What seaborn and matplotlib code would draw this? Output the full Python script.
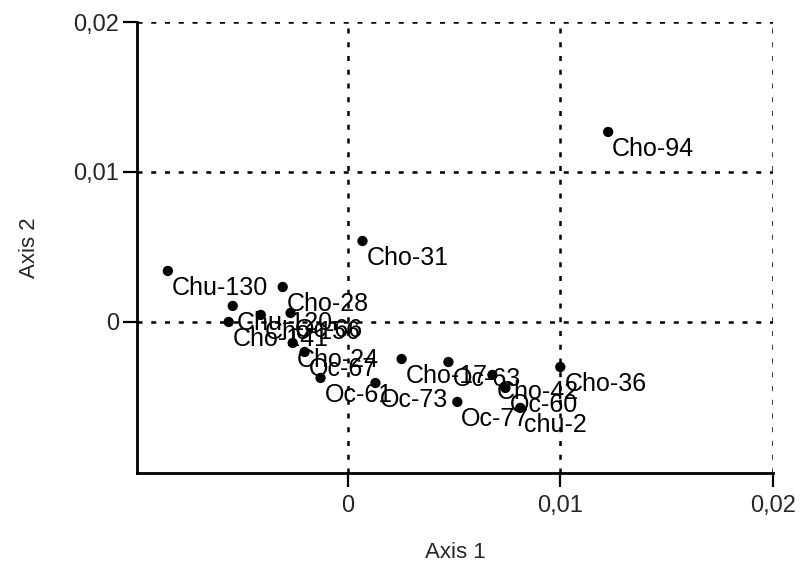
import pandas as pd
import matplotlib
matplotlib.use("Agg")
import matplotlib.pyplot as plt
import seaborn as sns

# Sample scores on the first two axes
labels = ["Chu-130", "Cho-28", "Chu-120", "Cho-141", "Cho-156", "Oc-66",
          "Cho-24", "Oc-67", "Oc-61", "Oc-73", "Cho-31", "Cho-17", "Oc-63",
          "Cho-42", "Oc-60", "Oc-77", "chu-2", "Cho-36", "Cho-94"]
axis1 = [-0.00845, -0.00305, -0.0054, -0.00559, -0.00408, -0.00268,
         -0.00258, -0.00202, -0.00127, 0.00131, 0.0007, 0.00254, 0.00474,
         0.00681, 0.00742, 0.00516, 0.00812, 0.0100, 0.01225]
axis2 = [0.0034, 0.00233, 0.00107, 0.0, 0.00047, 0.0006,
         -0.0014, -0.002, -0.00373, -0.00407, 0.0054, -0.00247, -0.00267,
         -0.00353, -0.0044, -0.00533, -0.00573, -0.003, 0.01267]

tick_vals = [0, 0.01, 0.02]
tick_labels = ["0", "0,01", "0,02"]

df = pd.DataFrame({"label": labels, "Axis 1": axis1, "Axis 2": axis2})

sns.set_style("ticks")
plt.rcParams['font.family'] = ['Liberation Sans', 'DejaVu Sans']

fig = plt.figure(figsize=(8.03, 5.65), dpi=100)
ax = fig.add_axes([137 / 803, 1 - 473 / 565, (773 - 137) / 803, (473 - 22) / 565])

sns.scatterplot(data=df, x="Axis 1", y="Axis 2", color="black", s=55,
                edgecolor="none", ax=ax, zorder=3)

for lab, x, y in zip(labels, axis1, axis2):
    ax.annotate(lab, (x, y), xytext=(4, -24), textcoords="offset pixels",
                ha="left", va="baseline", fontsize=18, color="black")

ax.set_xlim(-0.0099, 0.02)
ax.set_ylim(-0.01007, 0.02)
ax.set_xticks(tick_vals)
ax.set_xticklabels(tick_labels)
ax.set_yticks(tick_vals)
ax.set_yticklabels(tick_labels)

# dotted grid (the top and right edges are grid lines too)
for v in tick_vals:
    ax.axvline(v, color="black", lw=1.8, ls=(0, (2, 3.5)), zorder=1)
    ax.axhline(v, color="black", lw=1.8, ls=(0, (2, 3.5)), zorder=1)

ax.spines["top"].set_visible(False)
ax.spines["right"].set_visible(False)
for s in ["left", "bottom"]:
    ax.spines[s].set_linewidth(2)
    ax.spines[s].set_color("black")
ax.tick_params(axis="both", length=10, width=1.6, color="black", labelsize=17)
ax.tick_params(axis="x", pad=6)
ax.tick_params(axis="y", pad=3)

ax.set_xlabel("Axis 1", fontsize=16, labelpad=18)
ax.set_ylabel("Axis 2", fontsize=16, labelpad=24)

fig.savefig("out.png", dpi=100)
